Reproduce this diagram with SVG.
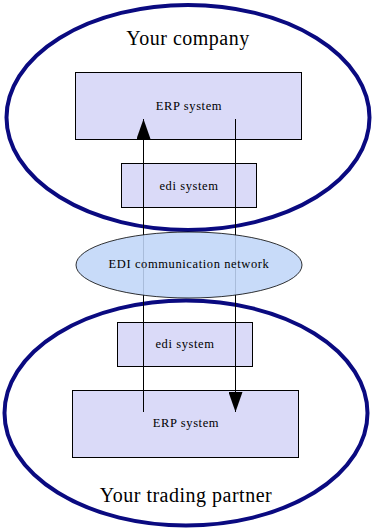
<svg xmlns="http://www.w3.org/2000/svg" width="374" height="530" viewBox="0 0 374 530">
<defs>
<style>
.org{fill:none;stroke:#0a0a80;stroke-width:4}
.box{fill:#dadaf8;stroke:#000;stroke-width:1}
.net{fill:#c0d6f8;fill-opacity:0.88;stroke:#000;stroke-width:0.8}
.lbl{font-family:"Liberation Serif","DejaVu Serif",serif;font-size:12.5px;letter-spacing:0.6px;fill:#000;text-anchor:middle}
.ttl{font-family:"Liberation Serif","DejaVu Serif",serif;font-size:20px;letter-spacing:0.5px;fill:#000;text-anchor:middle}
.con{stroke:#000;stroke-width:1;fill:none}
</style>
<marker id="ah" viewBox="0 0 20 14" refX="20" refY="7" markerWidth="20" markerHeight="14" markerUnits="userSpaceOnUse" orient="auto">
<path d="M0,0 L20,7 L0,14 Z" fill="#000"/>
</marker>
</defs>
<g id="your-company">
<ellipse class="org" cx="188" cy="117.5" rx="181.5" ry="112.5"/>
<text class="ttl" x="188" y="45">Your company</text>
</g>
<g id="trading-partner">
<ellipse class="org" cx="186" cy="413" rx="181.5" ry="112.5"/>
<text class="ttl" x="186" y="502">Your trading partner</text>
</g>
<g id="erp-top">
<rect class="box" x="75.5" y="72.5" width="226" height="67"/>
<text class="lbl" x="189" y="110">ERP system</text>
</g>
<g id="edi-top">
<rect class="box" x="121.5" y="163.5" width="135" height="44"/>
<text class="lbl" x="189" y="190">edi system</text>
</g>
<g id="edi-bottom">
<rect class="box" x="117.5" y="322.5" width="135" height="44"/>
<text class="lbl" x="185" y="348">edi system</text>
</g>
<g id="erp-bottom">
<rect class="box" x="72.5" y="390.5" width="226" height="67"/>
<text class="lbl" x="186" y="427">ERP system</text>
</g>
<g id="connectors">
<line class="con" x1="143.5" y1="412" x2="143.5" y2="119" marker-end="url(#ah)"/>
<line class="con" x1="235.5" y1="119" x2="235.5" y2="412" marker-end="url(#ah)"/>
</g>
<g id="edi-network">
<ellipse class="net" cx="189" cy="265" rx="113" ry="33"/>
<text class="lbl" x="189" y="268">EDI communication network</text>
</g>
</svg>
